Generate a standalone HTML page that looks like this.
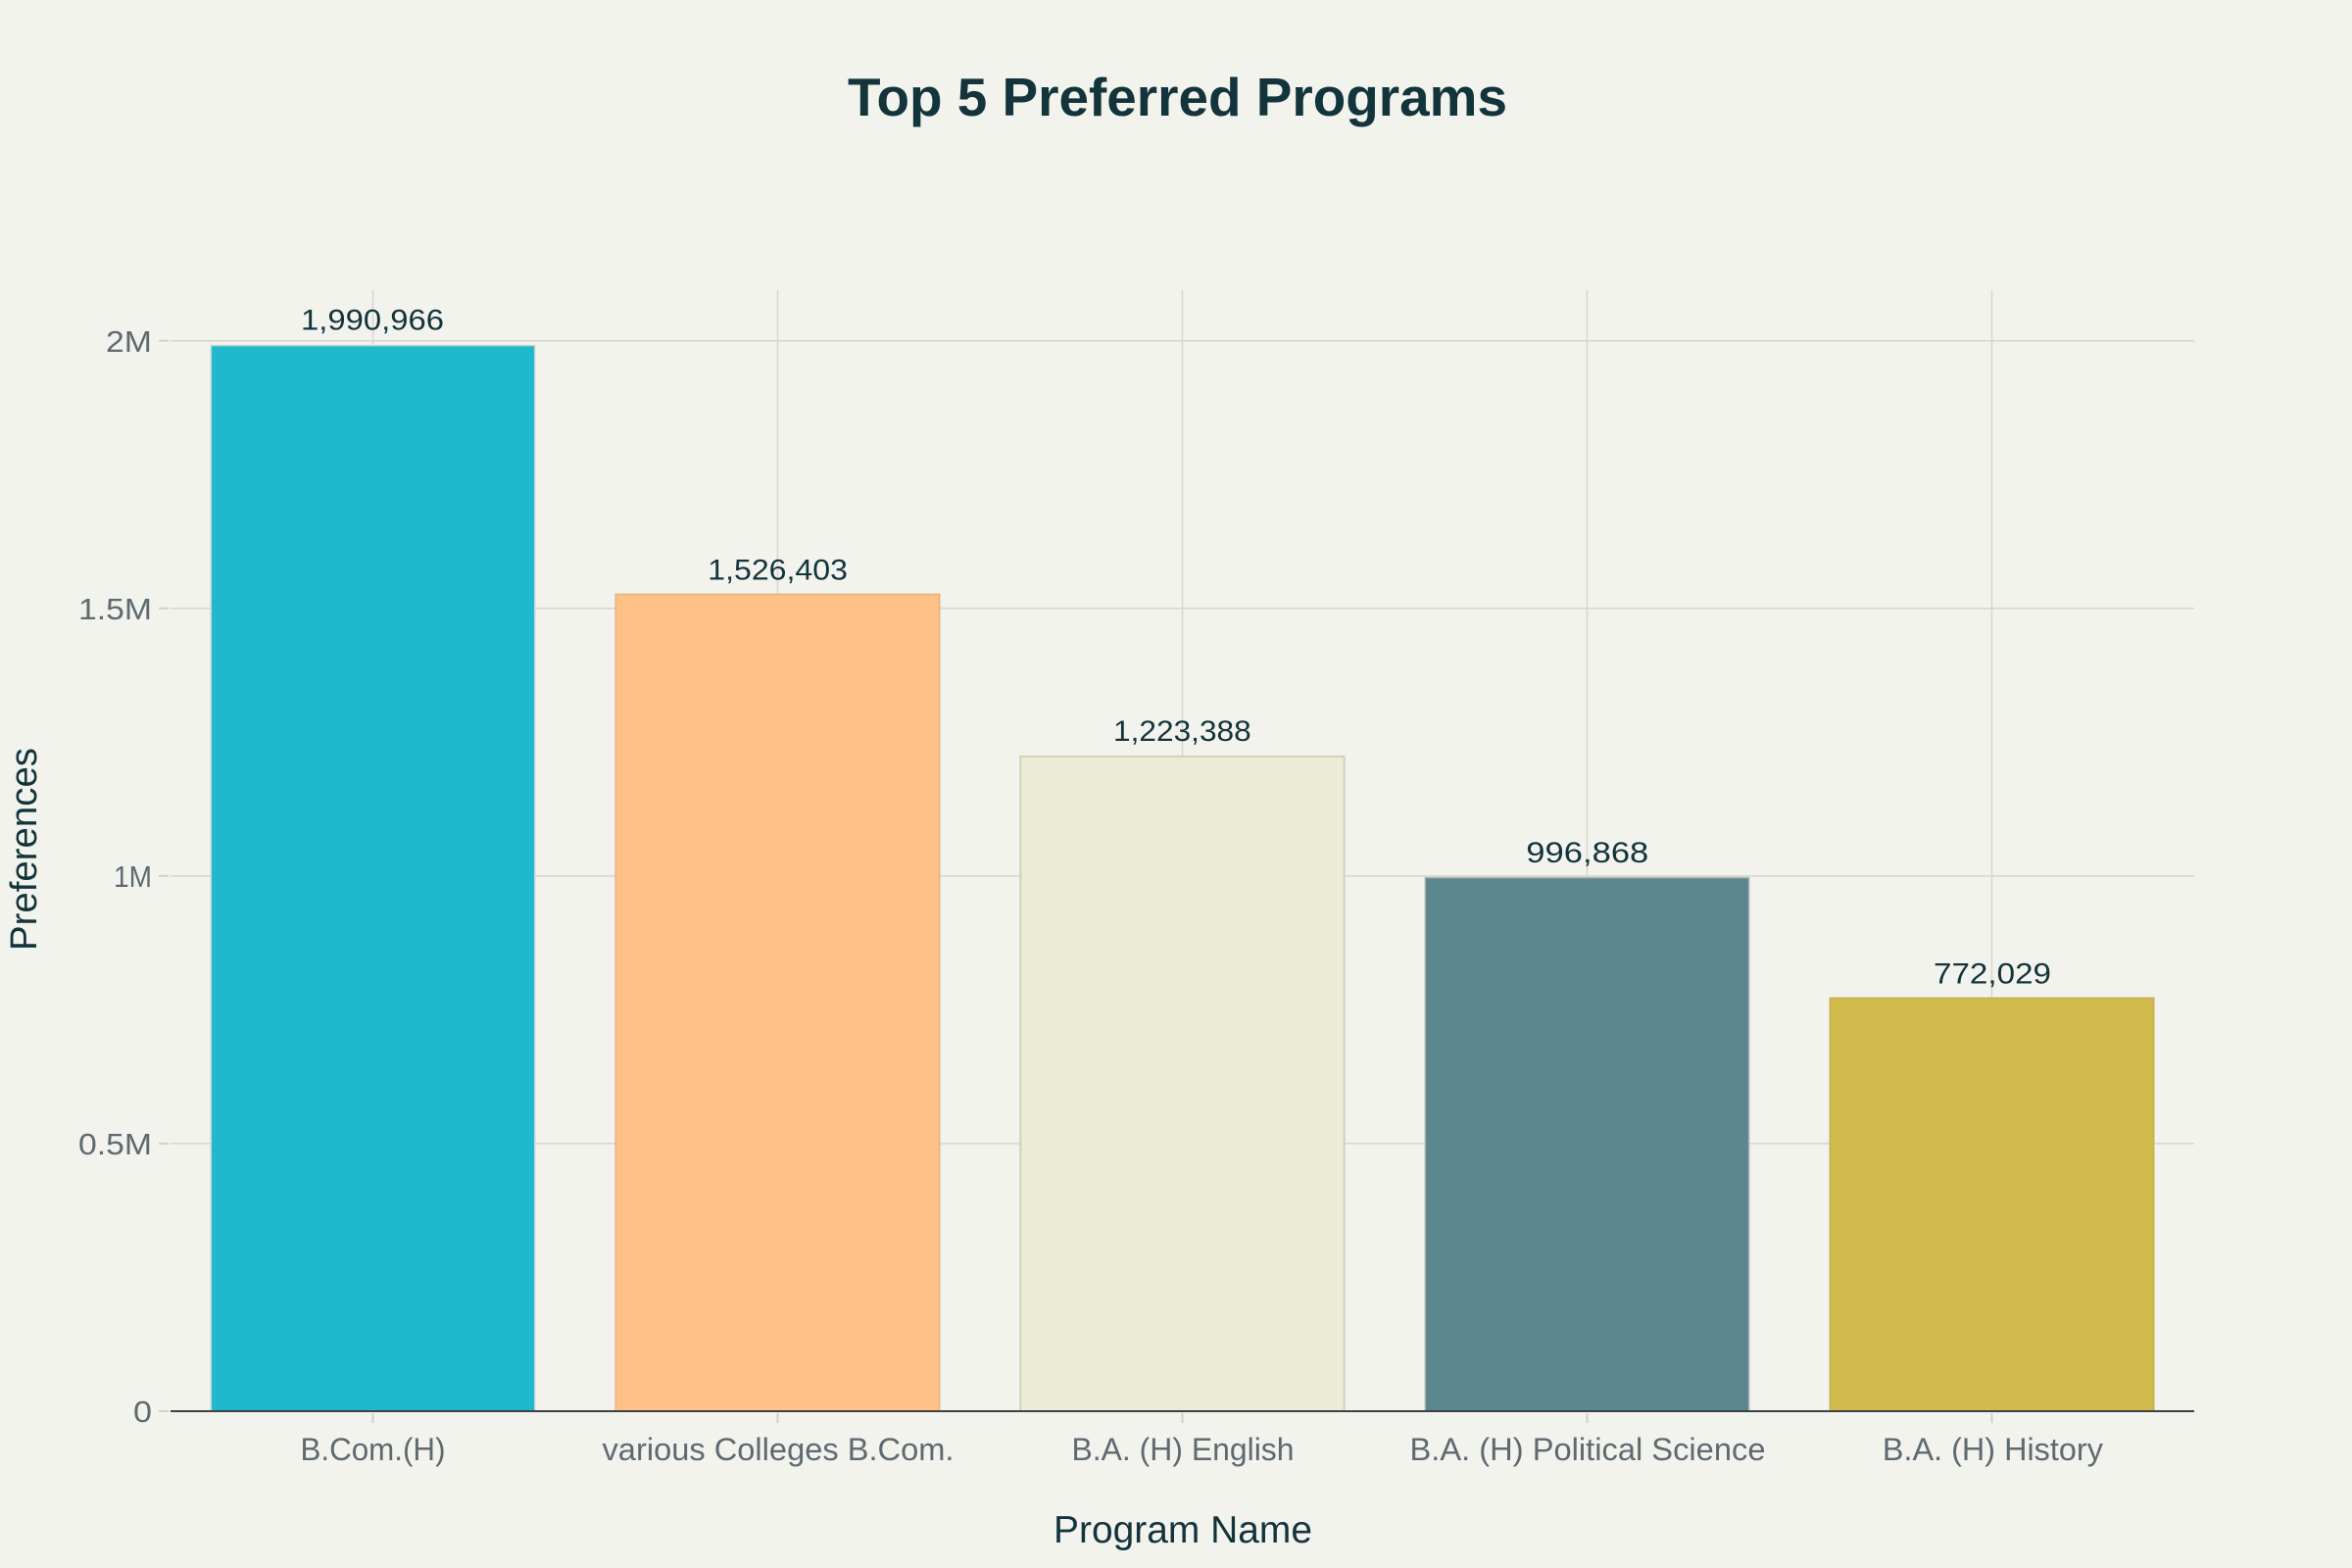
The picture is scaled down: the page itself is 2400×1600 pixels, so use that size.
<!DOCTYPE html>
<html>
<head>
<meta charset="utf-8">
<style>
  html, body { margin: 0; padding: 0; background: #F3F3EE; }
  svg { display: block; }
  text { font-family: "Liberation Sans", "DejaVu Sans", sans-serif; }
</style>
</head>
<body>
<svg width="2400" height="1600" viewBox="0 0 2400 1600" xmlns="http://www.w3.org/2000/svg">
  <rect x="0" y="0" width="2400" height="1600" fill="#F3F3EE"/>

  <!-- Title -->
  <text x="1201.5" y="118" text-anchor="middle" font-size="55" font-weight="bold" fill="#13343B" textLength="673" lengthAdjust="spacingAndGlyphs">Top 5 Preferred Programs</text>

  <!-- Vertical gridlines -->
  <g stroke="#d6d5cf" stroke-width="1.5">
    <line x1="380.5" y1="296" x2="380.5" y2="1440"/>
    <line x1="793.5" y1="296" x2="793.5" y2="1440"/>
    <line x1="1206.5" y1="296" x2="1206.5" y2="1440"/>
    <line x1="1619.5" y1="296" x2="1619.5" y2="1440"/>
    <line x1="2032.5" y1="296" x2="2032.5" y2="1440"/>
  </g>
  <!-- Horizontal gridlines -->
  <g stroke="#d6d5cf" stroke-width="1.5">
    <line x1="174" y1="347.7" x2="2239" y2="347.7"/>
    <line x1="174" y1="620.8" x2="2239" y2="620.8"/>
    <line x1="174" y1="893.8" x2="2239" y2="893.8"/>
    <line x1="174" y1="1166.9" x2="2239" y2="1166.9"/>
  </g>

  <!-- Y ticks -->
  <g stroke="#d2d1cb" stroke-width="2">
    <line x1="162" y1="347.7" x2="172" y2="347.7"/>
    <line x1="162" y1="620.8" x2="172" y2="620.8"/>
    <line x1="162" y1="893.8" x2="172" y2="893.8"/>
    <line x1="162" y1="1166.9" x2="172" y2="1166.9"/>
    <line x1="162" y1="1440" x2="172" y2="1440"/>
  </g>

  <!-- Bars -->
  <rect x="215.3" y="352.6" width="330.4" height="1087.4" fill="#1FB8CD" stroke="#c5d3d3" stroke-width="1.5"/>
  <rect x="628.3" y="606.4" width="330.4" height="833.6" fill="#FFC185" stroke="#e3b07f" stroke-width="1.5"/>
  <rect x="1041.3" y="771.9" width="330.4" height="668.1" fill="#ECEBD5" stroke="#d3d1bc" stroke-width="2"/>
  <rect x="1454.3" y="895.6" width="330.4" height="544.4" fill="#5D878F" stroke="#a9b5b3" stroke-width="1.5"/>
  <rect x="1867.3" y="1018.4" width="330.4" height="421.6" fill="#D2BA4C" stroke="#c4ae52" stroke-width="1.5"/>

  <!-- X axis line -->
  <line x1="174" y1="1440" x2="2239" y2="1440" stroke="#3d4242" stroke-width="2"/>

  <!-- X ticks -->
  <g stroke="#d2d1cb" stroke-width="2">
    <line x1="380.5" y1="1442" x2="380.5" y2="1452"/>
    <line x1="793.5" y1="1442" x2="793.5" y2="1452"/>
    <line x1="1206.5" y1="1442" x2="1206.5" y2="1452"/>
    <line x1="1619.5" y1="1442" x2="1619.5" y2="1452"/>
    <line x1="2032.5" y1="1442" x2="2032.5" y2="1452"/>
  </g>

  <!-- Value labels -->
  <g font-size="30" fill="#13343B" text-anchor="middle">
    <text x="380" y="336.7" textLength="146" lengthAdjust="spacingAndGlyphs">1,990,966</text>
    <text x="793.6" y="591.7" textLength="142.7" lengthAdjust="spacingAndGlyphs">1,526,403</text>
    <text x="1206.4" y="756" textLength="140.7" lengthAdjust="spacingAndGlyphs">1,223,388</text>
    <text x="1619.8" y="880" textLength="125" lengthAdjust="spacingAndGlyphs">996,868</text>
    <text x="2033" y="1003.3" textLength="120" lengthAdjust="spacingAndGlyphs">772,029</text>
  </g>

  <!-- Y tick labels -->
  <g font-size="31" fill="#5e6a70" text-anchor="end">
    <text x="155" y="359" textLength="47" lengthAdjust="spacingAndGlyphs">2M</text>
    <text x="155" y="632" textLength="75" lengthAdjust="spacingAndGlyphs">1.5M</text>
    <text x="155" y="905" textLength="39" lengthAdjust="spacingAndGlyphs">1M</text>
    <text x="155" y="1178" textLength="75" lengthAdjust="spacingAndGlyphs">0.5M</text>
    <text x="155" y="1451" textLength="19" lengthAdjust="spacingAndGlyphs">0</text>
  </g>

  <!-- X tick labels -->
  <g font-size="32" fill="#5e6a70" text-anchor="middle">
    <text x="380.5" y="1490" textLength="148" lengthAdjust="spacingAndGlyphs">B.Com.(H)</text>
    <text x="794" y="1490" textLength="359" lengthAdjust="spacingAndGlyphs">various Colleges B.Com.</text>
    <text x="1207" y="1490" textLength="227" lengthAdjust="spacingAndGlyphs">B.A. (H) English</text>
    <text x="1620" y="1490" textLength="363" lengthAdjust="spacingAndGlyphs">B.A. (H) Political Science</text>
    <text x="2033.4" y="1490" textLength="225" lengthAdjust="spacingAndGlyphs">B.A. (H) History</text>
  </g>

  <!-- Axis titles -->
  <text x="1207" y="1574" text-anchor="middle" font-size="39" fill="#13343B" textLength="264" lengthAdjust="spacingAndGlyphs">Program Name</text>
  <text transform="translate(37,866.5) rotate(-90)" x="0" y="0" text-anchor="middle" font-size="38" fill="#13343B" textLength="207" lengthAdjust="spacingAndGlyphs">Preferences</text>
</svg>
</body>
</html>
